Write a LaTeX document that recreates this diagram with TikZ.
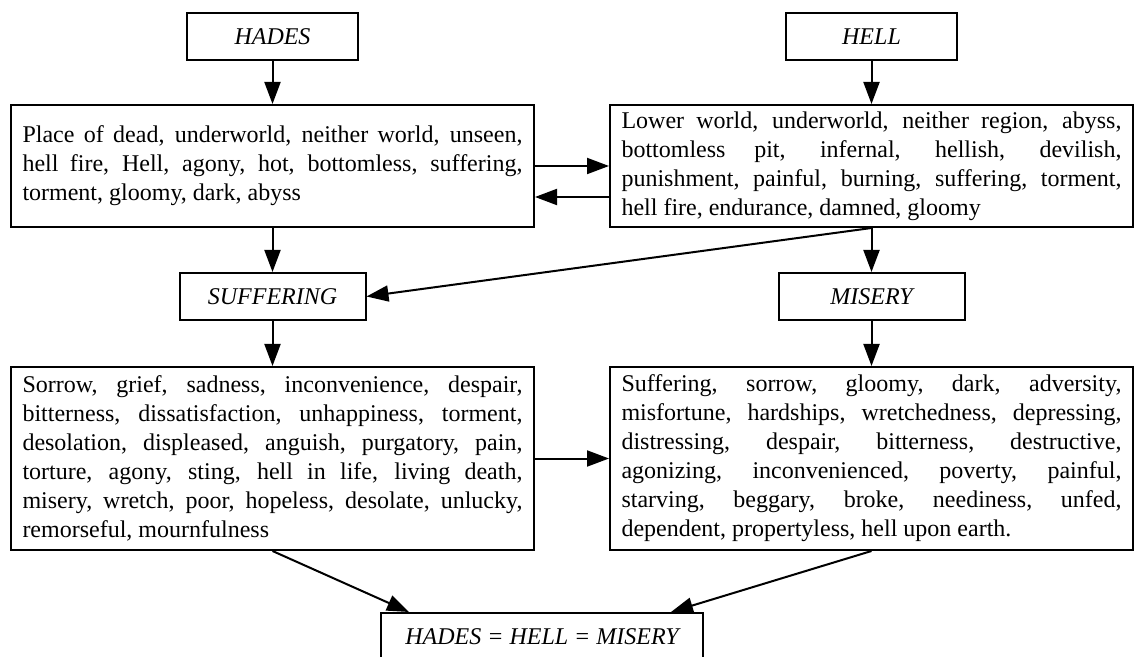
\documentclass[tikz,border=0pt]{standalone}
\usepackage{fontspec}
\setmainfont{Liberation Serif}
\usetikzlibrary{arrows.meta,calc}

\begin{document}
\begin{tikzpicture}[x=0.5pt, y=-0.5pt,
  lbl/.style={draw, line width=1pt, font=\fontsize{12}{14.5}\selectfont\itshape,
              minimum height=23.5pt, inner sep=0pt},
  txt/.style={draw, line width=1pt, font=\fontsize{12}{14.5}\selectfont,
              text width=250pt, align=justify, inner xsep=5.75pt, inner ysep=0pt},
  arr/.style={-{Triangle[length=11pt,width=8pt]}, line width=1pt}
]
  \useasboundingbox (0,0) rectangle (1134,657);
  \clip (0,0) rectangle (1134,657);
  \node[lbl, minimum width=85.5pt] (hades) at (272.5,36.5) {HADES};
  \node[lbl, minimum width=85.5pt] (hell)  at (871.5,36.5) {HELL};
  \node[txt, minimum height=61pt] (L1) at (272.5,166)
    {Place of dead, underworld, neither world, unseen,\linebreak
     hell fire, Hell, agony, hot, bottomless, suffering,\linebreak
     torment, gloomy, dark, abyss};
  \node[txt, minimum height=61pt] (R1) at (871.5,166)
    {Lower world, underworld, neither region, abyss,\linebreak
     bottomless pit, infernal, hellish, devilish,\linebreak
     punishment, painful, burning, suffering, torment,\linebreak
     hell fire, endurance, damned, gloomy};
  \node[lbl, minimum width=93pt] (suff)   at (272.5,296.5) {SUFFERING};
  \node[lbl, minimum width=93pt] (misery) at (871.5,296.5) {MISERY};
  \node[txt, minimum height=91.5pt] (L2) at (272.5,458.5)
    {Sorrow, grief, sadness, inconvenience, despair,\linebreak
     bitterness, dissatisfaction, unhappiness, torment,\linebreak
     desolation, displeased, anguish, purgatory, pain,\linebreak
     torture, agony, sting, hell in life, living death,\linebreak
     misery, wretch, poor, hopeless, desolate, unlucky,\linebreak
     remorseful, mournfulness};
  \node[txt, minimum height=91.5pt] (R2) at (871.5,458.5)
    {Suffering, sorrow, gloomy, dark, adversity,\linebreak
     misfortune, hardships, wretchedness, depressing,\linebreak
     distressing, despair, bitterness, destructive,\linebreak
     agonizing, inconvenienced, poverty, painful,\linebreak
     starving, beggary, broke, neediness, unfed,\linebreak
     dependent, propertyless, hell upon earth.};
  \node[lbl, minimum width=161pt] (res) at (542,636.5) {HADES = HELL = MISERY};
  \draw[arr] (hades) -- (L1); \draw[arr] (hell) -- (R1);
  \draw[arr] (L1.east) -- (R1.west);
  \draw[arr] ($(R1.west)+(0,31)$) -- ($(L1.east)+(0,31)$);
  \draw[arr] (L1) -- (suff); \draw[arr] (R1) -- (misery);
  \draw[arr] (R1.south) -- (suff.east);
  \draw[arr] (suff) -- (L2); \draw[arr] (misery) -- (R2);
  \draw[arr] (L2.east) -- (R2.west);
  \draw[arr] (L2.south) -- ($(res.north west)+(29,0)$);
  \draw[arr] (R2.south) -- ($(res.north east)+(-33,0)$);
\end{tikzpicture}
\end{document}
